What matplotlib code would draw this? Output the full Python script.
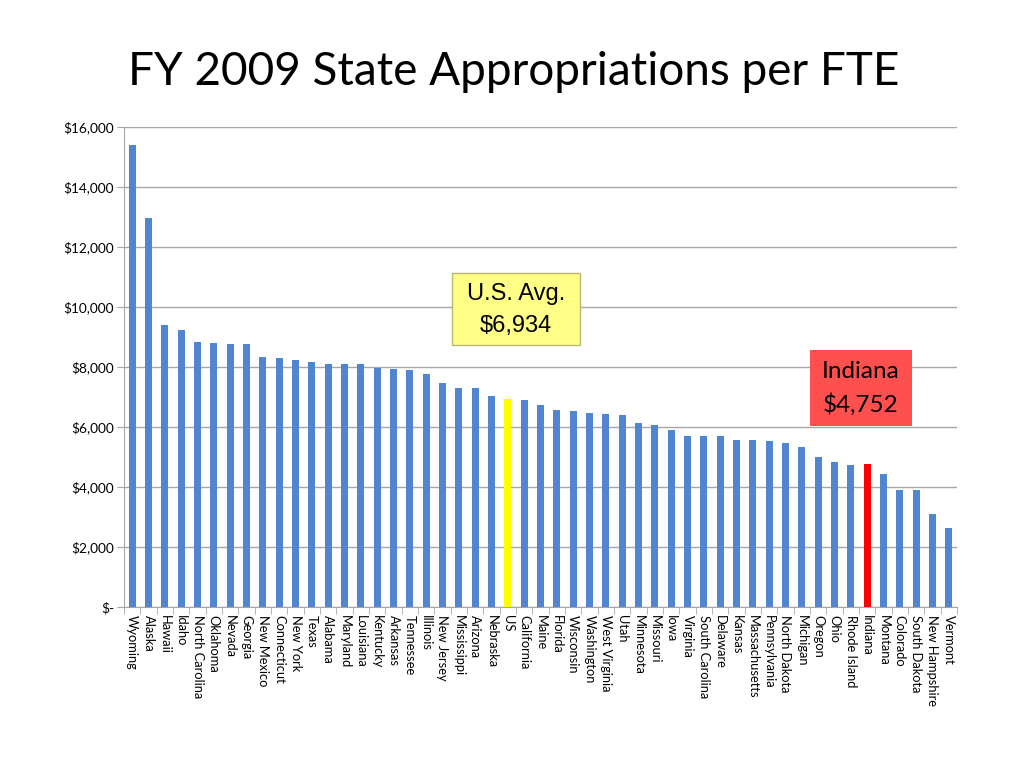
import matplotlib
matplotlib.use("Agg")
import matplotlib.pyplot as plt
from matplotlib.patches import Rectangle
from matplotlib.ticker import FuncFormatter, FixedLocator

states = ["Wyoming", "Alaska", "Hawaii", "Idaho", "North Carolina", "Oklahoma", "Nevada",
          "Georgia", "New Mexico", "Connecticut", "New York", "Texas", "Alabama", "Maryland",
          "Louisiana", "Kentucky", "Arkansas", "Tennessee", "Illinois", "New Jersey",
          "Mississippi", "Arizona", "Nebraska", "US", "California", "Maine", "Florida",
          "Wisconsin", "Washington", "West Virginia", "Utah", "Minnesota", "Missouri", "Iowa",
          "Virginia", "South Carolina", "Delaware", "Kansas", "Massachusetts", "Pennsylvania",
          "North Dakota", "Michigan", "Oregon", "Ohio", "Rhode Island", "Indiana", "Montana",
          "Colorado", "South Dakota", "New Hampshire", "Vermont"]
values = [15400, 12960, 9400, 9250, 8830, 8790, 8775, 8760, 8345, 8300, 8225, 8160, 8090,
          8090, 8090, 7960, 7935, 7890, 7770, 7470, 7300, 7290, 7035, 6934, 6890, 6750, 6560,
          6525, 6467, 6425, 6400, 6150, 6065, 5890, 5690, 5690, 5690, 5578, 5578, 5525, 5467,
          5350, 5010, 4850, 4750, 4752, 4450, 3915, 3915, 3115, 2635]
yticks = [0, 2000, 4000, 6000, 8000, 10000, 12000, 14000, 16000]

blue = "#4F86CF"
colors = []
for s in states:
    if s == "US":
        colors.append("#FFFF00")
    elif s == "Indiana":
        colors.append("#FF0000")
    else:
        colors.append(blue)

W, H = 1024, 768
fig = plt.figure(figsize=(W / 100, H / 100), dpi=100)
ax = fig.add_axes([124 / W, 1 - 607 / H, (957 - 124) / W, (607 - 127) / H])

x = list(range(len(states)))
ax.bar(x, values, width=0.44, color=colors, zorder=3)
ax.set_xlim(-0.5, len(states) - 0.5)
ax.set_ylim(0, 16000)
ax.set_yticks(yticks)
ax.yaxis.set_major_formatter(FuncFormatter(lambda v, p: "$-" if v == 0 else "${:,.0f}".format(v)))
ax.grid(axis="y", color="#A6A6A6", linewidth=1.0, zorder=0)
ax.set_axisbelow(True)

ax.set_xticks(x)
ax.set_xticklabels(states, rotation=270, fontsize=9.3, family="Lato", va="top", ha="center")
ax.tick_params(axis="x", which="major", length=0, pad=6)
ax.xaxis.set_minor_locator(FixedLocator([i - 0.5 for i in range(len(states) + 1)]))
ax.tick_params(axis="x", which="minor", length=5, color="#A6A6A6")
ax.tick_params(axis="y", length=5, color="#A6A6A6", labelsize=9.8, pad=2)
for lab in ax.get_yticklabels():
    lab.set_family("Lato")

for side in ["top", "right"]:
    ax.spines[side].set_visible(False)
for side in ["left", "bottom"]:
    ax.spines[side].set_color("#A6A6A6")

fig.text(128 / W, 1 - 72 / H, "FY 2009 State Appropriations per FTE", fontsize=33,
         family="Lato", ha="left", va="center", color="#000000")

# U.S. Avg box
fig.add_artist(Rectangle((452 / W, 1 - 345 / H), 128 / W, 72 / H, transform=fig.transFigure,
                         facecolor="#FFFF88", edgecolor="#B8B870", linewidth=1, zorder=5))
fig.text(516 / W, 1 - 294 / H, "U.S. Avg.", fontsize=17, family="Liberation Sans",
         ha="center", va="center", zorder=6)
fig.text(516 / W, 1 - 326 / H, "$6,934", fontsize=17, family="Liberation Sans",
         ha="center", va="center", zorder=6)

# Indiana box
fig.add_artist(Rectangle((810 / W, 1 - 426 / H), 102 / W, 76 / H, transform=fig.transFigure,
                         facecolor="#FF5050", edgecolor="none", zorder=5))
fig.text(861 / W, 1 - 371 / H, "Indiana", fontsize=17.5, family="Lato",
         ha="center", va="center", zorder=6)
fig.text(861 / W, 1 - 405 / H, "$4,752", fontsize=17.5, family="Lato",
         ha="center", va="center", zorder=6)

fig.savefig("out.png", dpi=100)
